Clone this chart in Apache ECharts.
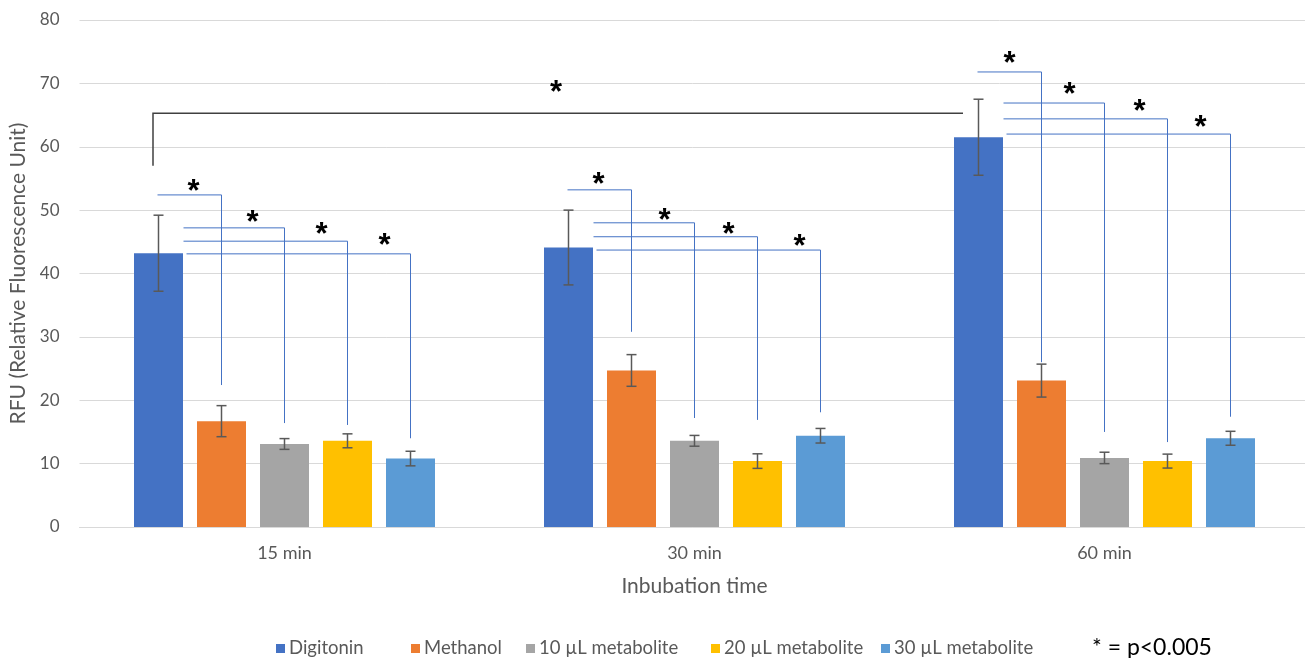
<!DOCTYPE html>
<html><head><meta charset="utf-8">
<script src="https://cdn.jsdelivr.net/npm/echarts@6/dist/echarts.min.js"></script>
<style>html,body{margin:0;padding:0;background:#fff}#c{width:1305px;height:658px}</style>
</head><body><div id="c"></div>
<script>
// ---- data ----
const categories = ['15 min', '30 min', '60 min'];
const seriesNames = ['Digitonin', 'Methanol', '10 µL metabolite', '20 µL metabolite', '30 µL metabolite'];
const digitonin = [43.2, 44.1, 61.5];
const methanol = [16.7, 24.7, 23.1];
const met10 = [13.1, 13.6, 10.9];
const met20 = [13.6, 10.4, 10.4];
const met30 = [10.8, 14.4, 14.0];
const errDigitonin = [6.0, 5.9, 6.0];
const errMethanol = [2.45, 2.5, 2.6];
const errMet10 = [0.85, 0.85, 0.9];
const errMet20 = [1.1, 1.15, 1.1];
const errMet30 = [1.15, 1.15, 1.1];
const yTicks = [0, 10, 20, 30, 40, 50, 60, 70, 80];
// significance brackets: [group, target series, top y, bottom y]
const brackets = [
  [0, 1, 52.4, 22.4], [0, 2, 47.2, 16.4], [0, 3, 45.1, 16.1], [0, 4, 43.1, 14.0],
  [1, 1, 53.2, 30.8], [1, 2, 48.0, 17.2], [1, 3, 45.8, 16.9], [1, 4, 43.7, 18.1],
  [2, 1, 71.8, 26.0], [2, 2, 66.9, 15.0], [2, 3, 64.4, 13.4], [2, 4, 62.0, 17.4]
];
// asterisk y values (glyph centre) for each bracket
const starY = [54.0, 49.1, 47.3, 45.6, 55.2, 49.5, 47.3, 45.3, 74.2, 69.3, 66.7, 64.2];
// long bracket between 15 min and 60 min Digitonin: [top y, left bottom y, star y]
const longBracket = [65.3, 57.0, 69.7];

// ---- layout ----
const values = [digitonin, methanol, met10, met20, met30];
const errors = [errDigitonin, errMethanol, errMet10, errMet20, errMet30];
const colors = ['#4472C4', '#ED7D31', '#A5A5A5', '#FFC000', '#5B9BD5'];
const BAR_W = 49, BAR_GAP = 14, STEP = BAR_W + BAR_GAP;
const startPx = [0, -127, -101, -101, -98];
const starDx = [-91, -32, 37, 100, -96, -30, 34, 105, -95, -35, 35, 96];

const errData = [];
values.forEach((arr, s) => arr.forEach((v, g) => errData.push([g, s, v, errors[s][g]])));

const chart = echarts.init(document.getElementById('c'));
const font = 'Lato, "Open Sans", sans-serif';
const starFont = 'bold 31px "Liberation Sans", sans-serif';

const barSeries = values.map((arr, s) => ({
  type: 'bar', name: seriesNames[s], data: arr,
  barWidth: BAR_W, barGap: (BAR_GAP / BAR_W * 100) + '%',
  itemStyle: { color: colors[s] }, z: 2
}));

const errSeries = {
  type: 'custom', data: errData, z: 5, silent: true,
  renderItem: (params, api) => {
    const g = api.value(0), s = api.value(1), v = api.value(2), e = api.value(3);
    const hi = api.coord([g, v + e]), lo = api.coord([g, v - e]);
    const x = hi[0] + (s - 2) * STEP;
    const st = { stroke: '#595959', lineWidth: 1.5 };
    return { type: 'group', children: [
      { type: 'line', shape: { x1: x, y1: hi[1], x2: x, y2: lo[1] }, style: st },
      { type: 'line', shape: { x1: x - 5, y1: hi[1], x2: x + 5, y2: hi[1] }, style: st },
      { type: 'line', shape: { x1: x - 5, y1: lo[1], x2: x + 5, y2: lo[1] }, style: st }
    ]};
  }
};

const bracketSeries = {
  type: 'custom', data: brackets.map((b, i) => [b[0], b[1], b[2], b[3], i]), z: 4, silent: true,
  renderItem: (params, api) => {
    const g = api.value(0), s = api.value(1), top = api.value(2), bot = api.value(3), i = api.value(4);
    const c = api.coord([g, top]);
    const cb = api.coord([g, bot]);
    const xs = c[0] + startPx[s];
    const xe = c[0] + (s - 2) * STEP;
    const sc = api.coord([g, starY[i]]);
    const st = { stroke: '#4472C4', lineWidth: 1 };
    return { type: 'group', children: [
      { type: 'polyline', shape: { points: [[xs, c[1]], [xe, c[1]], [xe, cb[1]]] }, style: Object.assign({ fill: null }, st) },
      { type: 'text', x: sc[0] + starDx[i], y: sc[1] + 8, style: { text: '*', fill: '#000', font: starFont, align: 'center', verticalAlign: 'middle' } }
    ]};
  }
};

const longSeries = {
  type: 'custom', data: [[0, 2]], z: 4, silent: true,
  renderItem: (params, api) => {
    const a = api.coord([0, longBracket[0]]), ab = api.coord([0, longBracket[1]]);
    const b = api.coord([2, longBracket[0]]);
    const m = api.coord([1, longBracket[2]]);
    const x1 = a[0] - 131.5, x2 = b[0] - 141.5;
    return { type: 'group', children: [
      { type: 'polyline', shape: { points: [[x1, ab[1]], [x1, a[1]], [x2, a[1]]] }, style: { fill: null, stroke: '#404040', lineWidth: 1.5 } },
      { type: 'text', x: m[0] - 138.5, y: m[1] + 8, style: { text: '*', fill: '#000', font: starFont, align: 'center', verticalAlign: 'middle' } }
    ]};
  }
};

const legendLefts = [271, 406, 521, 706, 876];
const legends = seriesNames.map((n, i) => ({
  data: [n], left: legendLefts[i], top: 634, icon: 'rect', itemWidth: 9, itemHeight: 9,
  itemGap: 0, selectedMode: false,
  textStyle: { color: '#595959', fontSize: 18.5, fontFamily: font, padding: [0, 0, 0, -1] }
}));

chart.setOption({
  animation: false,
  grid: { left: 79.5, top: 20, width: 1230, height: 507, containLabel: false, outerBoundsMode: 'none' },
  legend: legends,
  xAxis: {
    type: 'category', data: categories,
    axisLine: { show: true, lineStyle: { color: '#D9D9D9', width: 1 } },
    axisTick: { show: false },
    axisLabel: { color: '#595959', fontSize: 18, fontFamily: font, margin: 17 },
    name: 'Inbubation time', nameLocation: 'middle', nameGap: 49,
    nameTextStyle: { color: '#595959', fontSize: 21, fontFamily: font }
  },
  yAxis: {
    type: 'value', min: 0, max: 80, interval: 10,
    axisLine: { show: false }, axisTick: { show: false },
    splitLine: { lineStyle: { color: '#D9D9D9', width: 1 } },
    axisLabel: { color: '#595959', fontSize: 17, fontFamily: font, margin: 20,
      formatter: v => yTicks.includes(v) ? String(v) : '' },
    name: 'RFU (Relative Fluorescence Unit)', nameLocation: 'middle', nameGap: 49,
    nameTextStyle: { color: '#595959', fontSize: 21, fontFamily: font }
  },
  graphic: [{ type: 'text', left: 1092, top: 636, style: { text: '* = p<0.005', fill: '#000', font: '23px ' + font } }],
  series: [...barSeries, errSeries, bracketSeries, longSeries]
});
</script></body></html>
